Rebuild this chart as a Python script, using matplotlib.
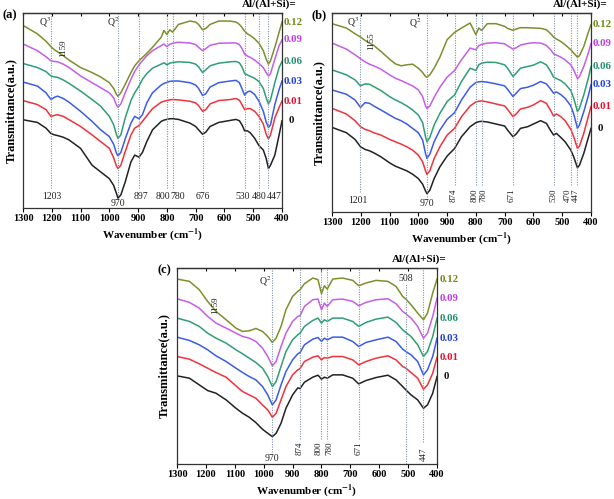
import matplotlib
matplotlib.use('Agg')
import matplotlib.pyplot as plt

plt.rcParams['font.family'] = ['Liberation Serif', 'DejaVu Serif']
plt.rcParams['mathtext.fontset'] = 'stix'

# Al/(Al+Si) ratios, bottom curve first
ratios = ['0', '0.01', '0.03', '0.06', '0.09', '0.12']
line_colors = ['#222222', '#f0323c', '#3a5ce6', '#2f9e72', '#c45ee8', '#7d8f2c']
text_colors = ['#111111', '#e8102e', '#1f3fe0', '#23906a', '#c03cf0', '#6e8a14']

# ---- panel (a) spectra (stacked, arbitrary units) ----
wn_a = [1300, 1250, 1220, 1203, 1190, 1180, 1160, 1140, 1100, 1060, 1030, 1000, 985, 975, 970, 960,
        945, 925, 912, 897, 885, 870, 850, 820, 810, 800, 790, 780, 760, 720, 700, 690, 676, 665,
        650, 620, 580, 560, 548, 538, 530, 520, 510, 495, 480, 465, 455, 447, 440, 425, 410, 400]
a_000 = [237, 229, 212, 196, 192, 190, 185, 177, 152, 102, 82, 62, 42, 17, 4, 14,
         52, 112, 132, 126, 140, 172, 207, 232, 236, 238, 240, 240, 238, 227, 217, 207, 194, 200,
         217, 229, 235, 238, 234, 220, 204, 204, 198, 182, 160, 147, 122, 92, 102, 132, 192, 234]
a_001 = [294, 282, 267, 247, 250, 252, 247, 237, 217, 192, 172, 152, 124, 99, 92, 102,
         142, 192, 212, 220, 232, 249, 270, 289, 292, 294, 296, 297, 296, 292, 287, 279, 262, 267,
         284, 294, 297, 300, 295, 280, 267, 270, 270, 262, 247, 224, 194, 180, 192, 242, 274, 292]
a_003 = [349, 337, 317, 297, 304, 307, 300, 289, 262, 232, 207, 187, 164, 137, 130, 140,
         180, 227, 247, 240, 252, 287, 317, 340, 345, 348, 351, 352, 352, 347, 340, 330, 309, 314,
         334, 347, 352, 354, 347, 327, 310, 320, 322, 312, 292, 262, 230, 214, 222, 282, 327, 352]
a_006 = [404, 392, 380, 367, 364, 363, 355, 345, 322, 297, 277, 247, 222, 192, 182, 192,
         242, 294, 317, 337, 357, 374, 390, 402, 406, 400, 405, 407, 409, 407, 402, 394, 377, 385,
         397, 405, 409, 410, 406, 392, 374, 370, 366, 360, 350, 330, 302, 284, 296, 347, 392, 410]
a_009 = [462, 442, 424, 412, 410, 409, 402, 392, 367, 347, 332, 317, 302, 280, 274, 284,
         317, 357, 380, 400, 412, 427, 442, 457, 462, 454, 461, 464, 467, 465, 460, 452, 442, 448,
         458, 464, 465, 465, 460, 447, 432, 426, 422, 414, 404, 392, 377, 367, 374, 417, 457, 474]
a_012 = [517, 492, 470, 454, 444, 439, 427, 414, 392, 377, 364, 347, 330, 312, 307, 317,
         342, 377, 397, 412, 422, 434, 452, 482, 502, 490, 504, 497, 520, 530, 527, 520, 504, 508,
         520, 530, 530, 527, 520, 510, 500, 492, 487, 477, 464, 442, 417, 402, 412, 452, 497, 527]

# ---- panel (b) ----
wn_b = [1300, 1250, 1220, 1201, 1185, 1170, 1155, 1130, 1100, 1080, 1060, 1040, 1020, 1000, 985,
        975, 970, 960, 945, 925, 900, 874, 850, 820, 800, 790, 780, 760, 730, 700, 690, 671, 660,
        645, 620, 600, 575, 555, 540, 530, 520, 505, 490, 470, 460, 447, 440, 425, 410, 400]
b_000 = [253, 237, 217, 195, 187, 183, 177, 165, 147, 137, 130, 123, 113, 100, 83,
         63, 55, 65, 100, 135, 167, 190, 225, 255, 267, 270, 271, 269, 263, 257, 245, 225, 233,
         250, 255, 263, 273, 265, 243, 230, 235, 223, 210, 185, 165, 132, 140, 175, 220, 250]
b_001 = [310, 293, 273, 255, 247, 243, 237, 230, 217, 210, 203, 195, 185, 170, 150,
         123, 113, 123, 160, 195, 230, 250, 285, 317, 329, 331, 332, 329, 323, 317, 307, 285, 293,
         308, 313, 320, 333, 325, 303, 287, 293, 285, 273, 247, 225, 190, 197, 235, 283, 315]
b_003 = [365, 352, 335, 313, 327, 325, 317, 305, 290, 280, 273, 263, 250, 237, 215,
         175, 160, 173, 210, 245, 277, 297, 335, 373, 387, 389, 390, 388, 383, 377, 367, 345, 355,
         369, 373, 379, 390, 383, 367, 355, 359, 351, 340, 317, 293, 250, 260, 300, 345, 380]
b_006 = [425, 410, 395, 377, 383, 382, 375, 363, 345, 335, 327, 317, 305, 290, 267,
         225, 210, 223, 260, 295, 330, 350, 390, 430, 423, 440, 445, 448, 447, 440, 430, 405, 415,
         430, 435, 439, 449, 440, 420, 403, 399, 393, 383, 363, 340, 300, 310, 350, 397, 435]
b_009 = [505, 487, 470, 458, 449, 442, 437, 427, 410, 400, 393, 385, 377, 365, 345,
         317, 309, 317, 343, 373, 403, 423, 455, 490, 485, 497, 501, 505, 506, 503, 497, 487, 491,
         499, 504, 506, 505, 498, 485, 473, 469, 463, 455, 440, 425, 399, 405, 435, 473, 503]
b_012 = [563, 550, 533, 523, 513, 505, 498, 480, 457, 443, 437, 440, 442, 430, 417,
         405, 403, 410, 430, 463, 515, 537, 550, 565, 530, 550, 543, 563, 563, 555, 549, 543, 547,
         551, 551, 550, 549, 545, 533, 523, 517, 510, 500, 485, 475, 463, 467, 495, 535, 560]

# ---- panel (c) ----
wn_c = [1300, 1257, 1223, 1194, 1165, 1130, 1096, 1073, 1050, 1027, 1004, 986, 970, 957, 940,
        923, 900, 882, 874, 859, 830, 812, 800, 790, 780, 761, 727, 692, 671, 646, 611, 570,
        542, 519, 508, 490, 467, 447, 433, 415, 400]
c_000 = [264, 257, 237, 220, 212, 192, 167, 152, 140, 124, 104, 92, 82, 92, 122,
         167, 207, 228, 226, 245, 260, 266, 254, 260, 257, 267, 267, 257, 240, 250, 259, 266,
         252, 232, 222, 207, 192, 167, 177, 212, 262]
c_001 = [322, 314, 300, 287, 274, 260, 234, 217, 207, 197, 177, 162, 140, 152, 192,
         232, 267, 282, 286, 307, 320, 324, 312, 319, 317, 322, 322, 312, 297, 307, 317, 324,
         312, 292, 287, 274, 257, 224, 237, 272, 320]
c_003 = [380, 370, 357, 342, 324, 307, 287, 274, 262, 252, 232, 207, 177, 192, 237,
         277, 312, 330, 334, 357, 374, 379, 367, 377, 372, 380, 380, 367, 352, 364, 372, 380,
         367, 344, 337, 327, 307, 267, 282, 322, 377]
c_006 = [437, 427, 412, 392, 377, 362, 342, 330, 317, 304, 287, 262, 232, 247, 292,
         337, 372, 387, 392, 412, 430, 437, 422, 432, 427, 437, 437, 427, 412, 424, 434, 440,
         424, 402, 394, 382, 357, 322, 337, 382, 437]
c_009 = [495, 484, 467, 442, 422, 407, 392, 382, 377, 367, 347, 322, 294, 307, 352,
         392, 427, 442, 444, 472, 492, 494, 462, 482, 472, 492, 494, 487, 474, 484, 492, 495,
         480, 457, 450, 437, 412, 377, 392, 442, 497]
c_012 = [554, 547, 522, 487, 457, 432, 407, 397, 399, 406, 397, 382, 364, 377, 412,
         462, 502, 517, 522, 540, 557, 552, 510, 534, 524, 554, 557, 550, 534, 542, 550, 547,
         532, 502, 494, 477, 452, 432, 452, 512, 554]

# band marker lines: (wavenumber, ymin, ymax) in axes fraction
bands_a = [(1203, 0.10, 1), (970, 0.065, 1), (897, 0.10, 1), (800, 0.10, 1), (780, 0.10, 1),
           (676, 0.10, 1), (530, 0.10, 1), (480, 0.10, 1), (447, 0.10, 1)]
bands_b = [(1201, 0.10, 1), (970, 0.075, 1), (874, 0.135, 1), (800, 0.135, 1), (780, 0.135, 1),
           (671, 0.135, 1), (530, 0.135, 1), (470, 0.135, 1), (447, 0.135, 1)]
bands_c = [(970, 0.06, 1), (874, 0.13, 1), (800, 0.13, 1), (780, 0.13, 1), (671, 0.13, 1),
           (508, 0.0, 0.92), (447, 0.11, 1)]

# band labels: (text, x in cm-1, y in axes fraction, rotation, ha)
notes_a = [('1203', 1200, 0.058, 0, 'center'), ('970', 970, 0.025, 0, 'center'),
           ('897', 890, 0.058, 0, 'center'), ('800', 789, 0.058, 0, 'right'),
           ('780', 789, 0.058, 0, 'left'), ('676', 676, 0.058, 0, 'center'),
           ('530', 536, 0.058, 0, 'center'), ('480', 480, 0.058, 0, 'center'),
           ('447', 426, 0.058, 0, 'center'), ('Q$^3$', 1222, 0.955, 0, 'center'),
           ('Q$^2$', 988, 0.955, 0, 'center'), ('1159', 1160, 0.82, 90, 'center')]
notes_b = [('1201', 1211, 0.06, 0, 'center'), ('970', 971, 0.045, 0, 'center'),
           ('874', 876, 0.085, 90, 'center'), ('800', 806, 0.085, 90, 'center'),
           ('780', 775, 0.085, 90, 'center'), ('671', 675, 0.085, 90, 'center'),
           ('530', 529, 0.085, 90, 'center'), ('470', 481, 0.085, 90, 'center'),
           ('447', 451, 0.085, 90, 'center'), ('Q$^3$', 1227, 0.955, 0, 'center'),
           ('Q$^2$', 1012, 0.95, 0, 'center'), ('1155', 1162, 0.86, 90, 'center')]
notes_c = [('970', 970, 0.027, 0, 'center'), ('874', 874, 0.078, 90, 'center'),
           ('800', 810, 0.078, 90, 'center'), ('780', 771, 0.078, 90, 'center'),
           ('671', 671, 0.078, 90, 'center'), ('447', 447, 0.05, 90, 'center'),
           ('508', 508, 0.945, 0, 'center'), ('Q$^2$', 994, 0.935, 0, 'center'),
           ('1159', 1167, 0.81, 90, 'center')]

fig = plt.figure(figsize=(6.14, 4.99), dpi=100)
ax_a = fig.add_axes([0.0375, 0.5832, 0.4218, 0.3908])
ax_b = fig.add_axes([0.5407, 0.5752, 0.4218, 0.3988])
ax_c = fig.add_axes([0.2883, 0.0701, 0.4235, 0.3928])


def draw_panel(ax, wn, curves, ylim, letter, head_x, bands, notes):
    for y, col in zip(curves, line_colors):
        ax.plot(wn, y, color=col, lw=1.1)
    ax.set_xlim(1300, 400)
    ax.set_ylim(*ylim)
    ax.set_yticks([])
    ticks = list(range(1300, 399, -100))
    ax.set_xticks(ticks, [str(t) for t in ticks], fontweight='bold')
    ax.tick_params(axis='x', direction='out', length=3, width=0.8, labelsize=7.5, pad=1.5)
    top = ax.secondary_xaxis('top')
    top.set_xticks(ticks)
    top.tick_params(direction='in', length=2.5, width=0.8, labeltop=False)
    for s in list(ax.spines.values()) + [top.spines['top']]:
        s.set_linewidth(0.9)
        s.set_color('#333333')

    for b, lo, hi in bands:
        ax.axvline(b, ymin=lo, ymax=hi, color='#8193a8', lw=0.8, ls=(0, (1, 1.2)))
    tr = ax.get_xaxis_transform()
    for txt, x, y, rot, ha in notes:
        fs = 6.5 if rot else 7
        ax.text(x, y, txt, transform=tr, rotation=rot, ha=ha, va='center', fontsize=fs, color='#222222')

    # composition labels at the end of each curve
    for y, lab, col in zip(curves, ratios, text_colors):
        off = 5 if lab == '0' else 1.5
        ax.annotate(lab, xy=(wn[-1], y[-1]), xytext=(off, 0), textcoords='offset points',
                    ha='left', va='center', fontsize=7.8, fontweight='bold', color=col,
                    annotation_clip=False)

    ax.text(head_x, 1.045, 'Al/(Al+Si)=', transform=ax.transAxes, ha='center', va='center',
            fontsize=8, fontweight='bold')
    ax.text(-0.05, 0.99, letter, transform=ax.transAxes, ha='center', va='center',
            fontsize=9, fontweight='bold')
    ax.set_xlabel(r'Wavenumber (cm$^{\mathbf{-1}}$)', fontsize=8, fontweight='bold', labelpad=2)
    ax.set_ylabel('Transmittance(a.u.)', fontsize=9, fontweight='bold')
    ax.yaxis.set_label_coords(-0.025, 0.5)


draw_panel(ax_a, wn_a, [a_000, a_001, a_003, a_006, a_009, a_012], (-25, 554), '(a)', 0.95, bands_a, notes_a)
draw_panel(ax_b, wn_b, [b_000, b_001, b_003, b_006, b_009, b_012], (0, 595), '(b)', 0.96, bands_b, notes_b)
draw_panel(ax_c, wn_c, [c_000, c_001, c_003, c_006, c_009, c_012], (0, 587), '(c)', 0.93, bands_c, notes_c)

fig.savefig('out.png', dpi=100)
